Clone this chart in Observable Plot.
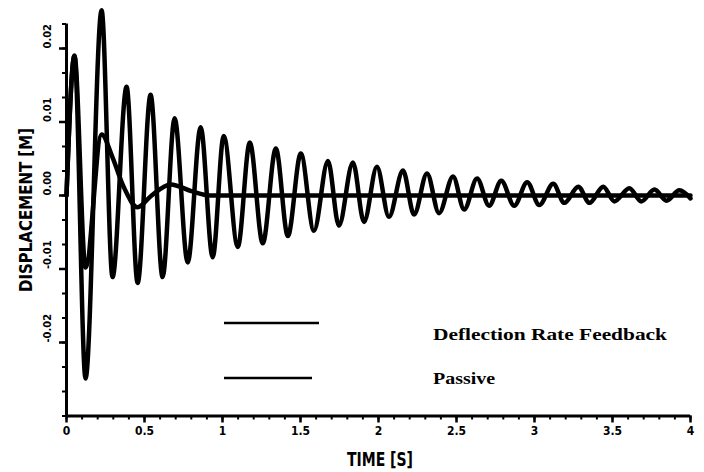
<!DOCTYPE html>
<html>
<head>
<meta charset="utf-8">
<script src="https://cdn.jsdelivr.net/npm/d3@7"></script>
<script src="https://cdn.jsdelivr.net/npm/@observablehq/plot@0.6"></script>
<style>
  html, body { margin: 0; padding: 0; background: #fff; }
  #chart svg { display: block; }
</style>
</head>
<body>
<div id="chart"></div>
<script>
// ---- data ----
const passiveTime = [0, 0.051, 0.122, 0.225, 0.295, 0.385, 0.456, 0.539, 0.616, 0.693, 0.777, 0.860, 0.937, 1.008, 1.098, 1.175, 1.258, 1.342, 1.419, 1.502, 1.586, 1.676, 1.746, 1.836, 1.907, 1.990, 2.067, 2.157, 2.228, 2.311, 2.388, 2.478, 2.549, 2.632, 2.709, 2.787, 2.870, 2.953, 3.031, 3.120, 3.191, 3.281, 3.352, 3.441, 3.512, 3.608, 3.685, 3.769, 3.846, 3.929, 4.0];
const passiveDisp = [0, 0.0190, -0.0249, 0.0252, -0.0111, 0.0148, -0.0119, 0.0137, -0.0111, 0.0105, -0.0091, 0.0093, -0.0084, 0.0081, -0.0070, 0.0072, -0.0065, 0.0064, -0.0055, 0.0057, -0.0048, 0.0047, -0.0041, 0.0045, -0.0036, 0.0039, -0.0029, 0.0034, -0.0026, 0.0030, -0.0024, 0.0026, -0.0019, 0.0023, -0.0014, 0.0020, -0.0014, 0.0018, -0.0013, 0.0016, -0.0010, 0.0012, -0.0010, 0.0012, -0.0008, 0.0010, -0.0008, 0.0008, -0.0007, 0.0007, -0.0004];

const feedbackTime = [0, 0.051, 0.122, 0.225, 0.293, 0.366, 0.456, 0.540, 0.668, 0.800, 0.920, 1.2, 1.6, 2.0, 2.5, 3.0, 3.5, 4.0];
const feedbackDisp = [0, 0.0190, -0.0098, 0.0083, 0.0053, 0.0012, -0.0016, -0.0001, 0.0015, 0.0006, 0.0000, 0, 0, 0, 0, 0, 0, 0];

const seriesNames = ["Deflection Rate Feedback", "Passive"];

const xTicks = [0, 0.5, 1, 1.5, 2, 2.5, 3, 3.5, 4];
const xTickLabels = ["0", "0.5", "1", "1.5", "2", "2.5", "3", "3.5", "4"];
const yTicks = [0.02, 0.01, 0, -0.01, -0.02];
const yTickLabels = ["0.02", "0.01", "0.00", "-0.01", "-0.02"];
const xLabel = "TIME [S]";
const yLabel = "DISPLACEMENT [M]";

const xDomain = [0, 4];
const yDomain = [-0.03, 0.07 / 3];

// ---- build tables ----
const passive = passiveTime.map((t, i) => ({t, v: passiveDisp[i], s: seriesNames[1]}));
const feedback = feedbackTime.map((t, i) => ({t, v: feedbackDisp[i], s: seriesNames[0]}));
const xMinor = d3.range(0, 40 + 1).map(k => k / 10);
const yMinor = d3.range(0, 17).map(k => -0.03 + k * 0.01 / 3);
const xFmt = new Map(xTicks.map((d, i) => [d, xTickLabels[i]]));
const yFmt = new Map(yTicks.map((d, i) => [d, yTickLabels[i]]));

const labelFont = "'Liberation Sans Narrow', 'DejaVu Sans Condensed', 'Arial Narrow', sans-serif";

const chart = Plot.plot({
  width: 704,
  height: 472,
  marginLeft: 66,
  marginRight: 14,
  marginTop: 23.5,
  marginBottom: 56.5,
  x: {domain: xDomain},
  y: {domain: yDomain},
  style: {background: "#fff", color: "#000", fontFamily: labelFont, fontWeight: "bold"},
  marks: [
    // minor ticks
    Plot.axisX(xMinor, {tickSize: 4, strokeWidth: 2, tickFormat: () => "", label: null}),
    Plot.axisY(yMinor, {tickSize: 4, strokeWidth: 2, tickFormat: () => "", label: null}),
    // major ticks + x labels
    Plot.axisX(xTicks, {tickSize: 7, strokeWidth: 2.5, tickPadding: 3, tickFormat: d => xFmt.get(d), fontSize: 12, label: null}),
    Plot.axisY(yTicks, {tickSize: 7, strokeWidth: 2.5, tickFormat: () => "", label: null}),
    // rotated y tick labels
    Plot.text(yTicks, {y: d => d, text: d => yFmt.get(d), frameAnchor: "left", dx: -19, rotate: -90, fontSize: 11, fontWeight: "bold"}),
    // axis lines
    Plot.ruleX([xDomain[0]], {y1: yDomain[0], y2: yDomain[1], strokeWidth: 3}),
    Plot.ruleY([yDomain[0]], {x1: xDomain[0], x2: xDomain[1], strokeWidth: 3}),
    // data
    Plot.line(feedback, {x: "t", y: "v", stroke: "#000", strokeWidth: 4.5, curve: "monotone-x", strokeLinejoin: "round"}),
    Plot.line(passive, {x: "t", y: "v", stroke: "#000", strokeWidth: 4.5, curve: "monotone-x", strokeLinejoin: "round"})
  ]
});

document.getElementById("chart").appendChild(chart);

// ---- axis titles and in-plot legend ----
const svg = d3.select(chart);
svg.append("text")
  .attr("x", 347).attr("y", 466)
  .attr("text-anchor", "start")
  .attr("textLength", 66).attr("lengthAdjust", "spacingAndGlyphs")
  .attr("font-family", labelFont).attr("font-weight", "bold").attr("font-size", 20)
  .attr("fill", "#000")
  .text(xLabel);
svg.append("text")
  .attr("transform", "translate(32,292) rotate(-90)")
  .attr("text-anchor", "start")
  .attr("textLength", 164).attr("lengthAdjust", "spacingAndGlyphs")
  .attr("font-family", labelFont).attr("font-weight", "bold").attr("font-size", 18)
  .attr("fill", "#000")
  .text(yLabel);

const legendLayout = [
  {x1: 224, x2: 319, ly: 323, tx: 433, ty: 340, len: 234},
  {x1: 224, x2: 312, ly: 378, tx: 433, ty: 384, len: 62}
];
seriesNames.forEach((name, i) => {
  const L = legendLayout[i];
  svg.append("line")
    .attr("x1", L.x1).attr("x2", L.x2).attr("y1", L.ly).attr("y2", L.ly)
    .attr("stroke", "#000").attr("stroke-width", 2.5);
  svg.append("text")
    .attr("x", L.tx).attr("y", L.ty)
    .attr("text-anchor", "start")
    .attr("textLength", L.len).attr("lengthAdjust", "spacingAndGlyphs")
    .attr("font-family", "'Liberation Serif', 'DejaVu Serif', serif")
    .attr("font-weight", "bold").attr("font-size", 17)
    .attr("fill", "#000")
    .text(name);
});
</script>
</body>
</html>
